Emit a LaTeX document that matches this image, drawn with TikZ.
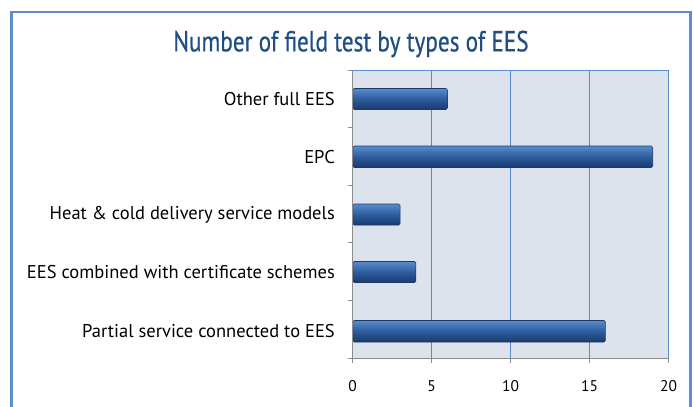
\documentclass[tikz,border=0pt]{standalone}
\usepackage{fontspec}
\setmainfont{PT Sans}
\newfontfamily\titlefont[FakeStretch=0.8,FakeBold=0.6]{PT Sans}
\usepackage{tikz}
\usetikzlibrary{positioning}
\definecolor{framebl}{HTML}{5E8DCC}
\definecolor{titlebl}{HTML}{1F4E85}
\definecolor{plotbg}{HTML}{DCE3EC}
\definecolor{gridbl}{HTML}{5A8AD0}
\definecolor{axisgr}{HTML}{8C8C8C}
\definecolor{bartop}{HTML}{5A8BCB}
\definecolor{barmid}{HTML}{2C5C9E}
\definecolor{barbot}{HTML}{1A3A6A}
\tikzstyle{bar} = [top color=bartop, bottom color=barbot, middle color=barmid, draw=barbot, line width=0.6pt, rounded corners=1.5pt]
\tikzstyle{catlabel} = [anchor=east, inner sep=0pt, font=\fontsize{18.5}{18.5}\selectfont]
\tikzstyle{numlabel} = [inner sep=0pt, font=\fontsize{15.5}{15.5}\selectfont]
\tikzstyle{grid} = [draw=gridbl, line width=0.8pt]

\begin{document}
\begin{tikzpicture}[x=1pt,y=-1pt]
	
	\useasboundingbox (0,0) rectangle (694,407);
	
	\def\xo{352.7}  % value 0
	\def\u{15.79}   % one unit
	\def\yt{70}
	\def\yb{358}
	\def\xr{668.5}
	
	\draw[framebl, line width=2.5pt] (11.5,12) rectangle (690.5,440);
	\node[text=titlebl, font=\titlefont\fontsize{29}{29}\selectfont] (title) at (351,44) {Number of field test by types of EES};
	
	\fill[plotbg] (\xo,\yt) rectangle (\xr,\yb);
	
	\pgfmathsetmacro{\xa}{\xo + 5*\u}
	\pgfmathsetmacro{\xb}{\xo + 10*\u}
	\pgfmathsetmacro{\xc}{\xo + 15*\u}
	\path[grid] (\xa,\yt) -- (\xa,\yb);
	\path[grid] (\xb,\yt) -- (\xb,\yb);
	\path[grid] (\xc,\yt) -- (\xc,\yb);
	\path[grid] (\xo,\yt) -- (\xr,\yt) -- (\xr,\yb);
	
	% bars
	\shade[bar] (\xo, 88.5) rectangle ({\xo + 6*\u}, 109.5);
	\shade[bar] (\xo,146.0) rectangle ({\xo + 19*\u},167.5);
	\shade[bar] (\xo,204.0) rectangle ({\xo + 3*\u},225.0);
	\shade[bar] (\xo,261.5) rectangle ({\xo + 4*\u},282.5);
	\shade[bar] (\xo,320.5) rectangle ({\xo + 16*\u},342.0);
	
	% axes
	\draw[axisgr, line width=1pt] (\xo,\yt) -- (\xo,\yb) -- (\xr,\yb);
	\draw[axisgr, line width=1pt] (\xo-5,70) -- (\xo,70);
	\draw[axisgr, line width=1pt] (\xo-5,127.6) -- (\xo,127.6);
	\draw[axisgr, line width=1pt] (\xo-5,185.2) -- (\xo,185.2);
	\draw[axisgr, line width=1pt] (\xo-5,242.8) -- (\xo,242.8);
	\draw[axisgr, line width=1pt] (\xo-5,300.4) -- (\xo,300.4);
	\draw[axisgr, line width=1pt] (\xo-5,\yb) -- (\xo,\yb);
	\draw[axisgr, line width=1pt] (\xo,\yb) -- (\xo,\yb+5);
	\draw[axisgr, line width=1pt] (\xa,\yb) -- (\xa,\yb+5);
	\draw[axisgr, line width=1pt] (\xb,\yb) -- (\xb,\yb+5);
	\draw[axisgr, line width=1pt] (\xc,\yb) -- (\xc,\yb+5);
	\draw[axisgr, line width=1pt] (\xr,\yb) -- (\xr,\yb+5);
	
	% categories
	\node[catlabel] (other) at (335, 99.0) {Other full EES};
	\node[catlabel] (epc)   at (335,157.0) {EPC};
	\node[catlabel] (heat)  at (335,214.5) {Heat \& cold delivery service models};
	\node[catlabel] (cert)  at (335,272.0) {EES combined with certificate schemes};
	\node[catlabel] (part)  at (335,331.0) {Partial service connected to EES};
	
	% values
	\node[numlabel] (n0)  at (\xo,386) {0};
	\node[numlabel] (n5)  at (\xa,386) {5};
	\node[numlabel] (n10) at (\xb,386) {10};
	\node[numlabel] (n15) at (\xc,386) {15};
	\node[numlabel] (n20) at (\xr,386) {20};
	
\end{tikzpicture}
\end{document}
